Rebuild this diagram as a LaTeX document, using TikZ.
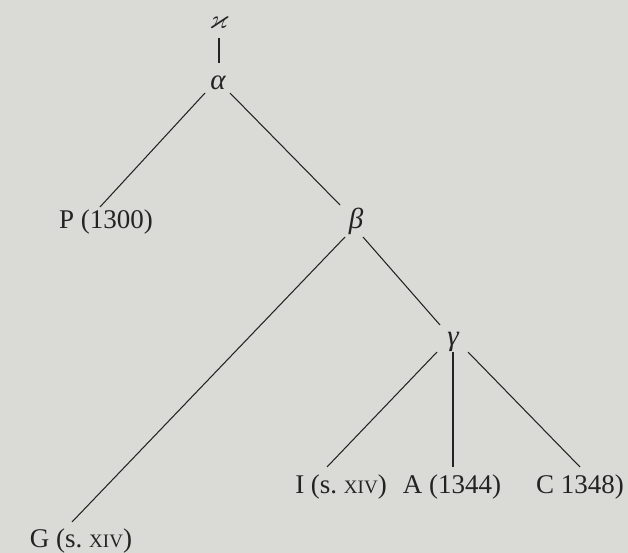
\documentclass[tikz,border=0pt]{standalone}
\usepackage{amssymb}
\usepackage{fontspec}
\setmainfont{Liberation Serif}
\definecolor{bg}{RGB}{218,218,214}
\definecolor{ink}{RGB}{35,35,35}
\newcommand{\mysc}[1]{{\fontsize{19}{19}\selectfont #1}}
\begin{document}
\begin{tikzpicture}[x=1pt,y=-1pt,
  lbl/.style={font=\fontsize{27}{30}\selectfont, text=ink, inner sep=0pt},
  glbl/.style={font=\fontsize{29}{32}\selectfont\itshape, text=ink, inner sep=0pt},
  edge/.style={draw=ink, line width=1.05pt}]
\fill[bg] (0,0) rectangle (628,553);
\useasboundingbox (0,0) rectangle (628,553);
\node[lbl] (kappa) at (219,23) {$\varkappa$};
\node[glbl] (alpha) at (218,83) {α};
\node[glbl] (beta) at (356,221) {β};
\node[glbl] (gamma) at (453,342) {γ};
\node[lbl,anchor=base] (P) at (106,229) {P (1300)};
\node[lbl,anchor=base] (G) at (81,547) {G (s.\ \mysc{XIV})};
\node[lbl,anchor=base] (I) at (341,493) {I (s.\ \mysc{XIV})};
\node[lbl,anchor=base] (A) at (452,493) {A (1344)};
\node[lbl,anchor=base] (C) at (580,493) {C 1348)};
\draw[edge] ([shift={(0,15)}]kappa.center) -- ([shift={(1,-20)}]alpha.center);
\draw[edge] ([shift={(-13,10)}]alpha.center) -- ([shift={(-6,-22)}]P.base);
\draw[edge] ([shift={(12,10)}]alpha.center) -- ([shift={(-16,-16)}]beta.center);
\draw[edge] ([shift={(-11,16)}]beta.center) -- ([shift={(-9,-25)}]G.base);
\draw[edge] ([shift={(7,16)}]beta.center) -- ([shift={(-13,-17)}]gamma.center);
\draw[edge] ([shift={(-16,10)}]gamma.center) -- ([shift={(-14,-26)}]I.base);
\draw[edge] ([shift={(0,10)}]gamma.center) -- ([shift={(1,-26)}]A.base);
\draw[edge] ([shift={(15,10)}]gamma.center) -- ([shift={(0,-26)}]C.base);
\end{tikzpicture}
\end{document}
